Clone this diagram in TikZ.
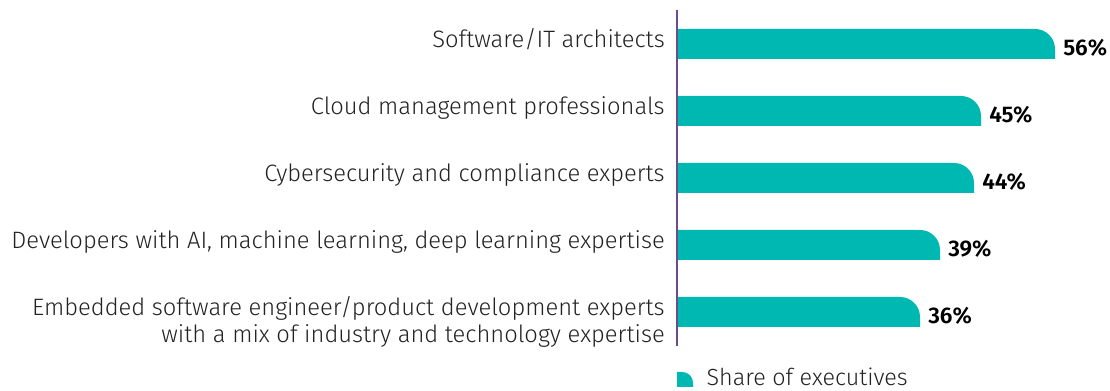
\documentclass[tikz,border=0pt]{standalone}
\usepackage{fontspec}
\IfFontExistsTF{Fira Sans Light}{\setmainfont{Fira Sans Light}[BoldFont={Fira Sans SemiBold}]}{\setmainfont{Fira Sans}}
\definecolor{barteal}{HTML}{00B8B2}
\definecolor{axispurple}{HTML}{6D4C8C}
\definecolor{txt}{HTML}{222222}
\tikzset{
  catlabel/.style={anchor=base east, font=\fontsize{17.8}{20.25}\selectfont, text=txt, inner sep=0pt, align=right},
  pctlabel/.style={anchor=base west, font=\bfseries\fontsize{17}{20}\selectfont, text=black, inner sep=0pt},
  barfill/.style={fill=barteal},
}
\newcommand{\hbarshape}[3]{% name, top y, end x
  \fill[barfill] (677,#2+30) -- (677,#2) [rounded corners=15pt] -- (#3,#2) [sharp corners] -- (#3,#2+30) -- cycle;
  \coordinate (#1) at (#3,#2+15);
}
\begin{document}
\begin{tikzpicture}[x=0.75pt,y=-0.75pt]
\useasboundingbox (0,0) rectangle (1110,391);
% bars
\hbarshape{b1}{29}{1055}
\hbarshape{b2}{96}{981}
\hbarshape{b3}{163}{974}
\hbarshape{b4}{230}{940}
\hbarshape{b5}{297}{920}
% axis
\coordinate (axtop) at (677,10);
\coordinate (axbot) at (677,346);
\draw[axispurple, line width=1.2pt] (axtop) -- (axbot);
% value labels
\node[pctlabel] (v1) at ([shift={(8,12)}]b1) {56\%};
\node[pctlabel] (v2) at ([shift={(8,12)}]b2) {45\%};
\node[pctlabel] (v3) at ([shift={(8,12)}]b3) {44\%};
\node[pctlabel] (v4) at ([shift={(8,12)}]b4) {39\%};
\node[pctlabel] (v5) at ([shift={(8,12)}]b5) {36\%};
% category labels
\node[catlabel] (c1) at (665,48) {Software/IT architects};
\node[catlabel] (c2) at (665,115) {Cloud management professionals};
\node[catlabel] (c3) at (665,182) {Cybersecurity and compliance experts};
\node[catlabel] (c4) at (665,249) {Developers with AI, machine learning, deep learning expertise};
\node[catlabel] (c5) at (665,316) {Embedded software engineer/product development experts};
\node[catlabel] (c5b) at (665,343) {with a mix of industry and technology expertise};
% legend
\fill[barfill] (677,387) -- (677,372) [rounded corners=8pt] -- (693,372) [sharp corners] -- (693,387) -- cycle;
\coordinate (legkey) at (693,386);
\node[anchor=base west, font=\fontsize{17.5}{20}\selectfont, text=txt, inner sep=0pt] (leg) at ([xshift=10]legkey) {Share of executives};
\end{tikzpicture}
\end{document}
